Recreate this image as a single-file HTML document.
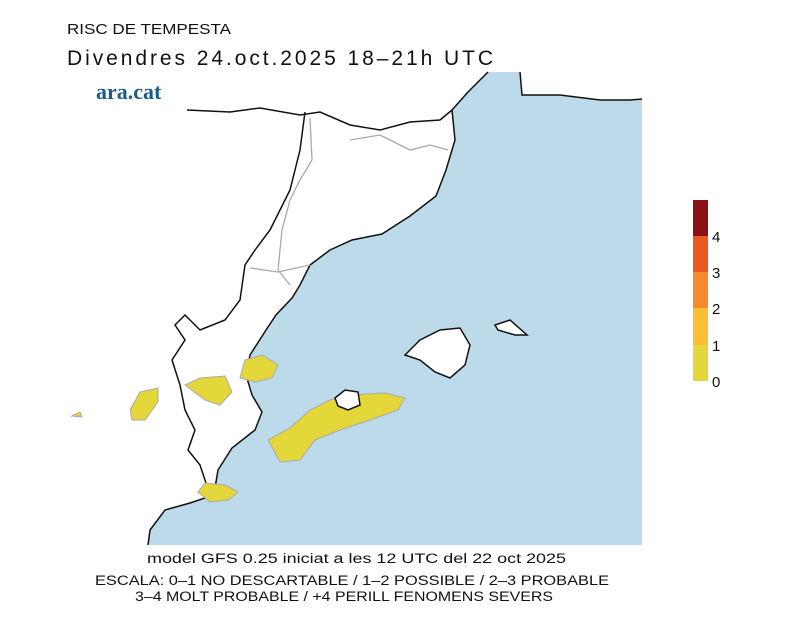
<!DOCTYPE html>
<html><head><meta charset="utf-8"><style>
body{margin:0;background:#fff;width:800px;height:617px;overflow:hidden;font-family:"Liberation Sans",sans-serif}
</style></head><body>
<svg width="800" height="617" xmlns="http://www.w3.org/2000/svg">
<rect width="800" height="617" fill="#fff"/>
<text x="67" y="34" font-size="15" fill="#111" textLength="164" lengthAdjust="spacingAndGlyphs">RISC DE TEMPESTA</text>
<text x="67" y="65" font-size="21" fill="#111" textLength="426" lengthAdjust="spacing">Divendres  24.oct.2025 18–21h UTC</text>
<text x="96" y="99" font-size="22" font-weight="bold" font-family="Liberation Serif,serif" fill="#1a5c8a">ara.cat</text>
<!-- sea -->
<path d="M488,72 L642,72 L642,545 L148,545 L150,530 L165,510 L190,503 L205,498 L215,488 L218,470 L232,448 L255,430 L262,412 L252,395 L246,375 L250,355 L266,330 L276,315 L292,298 L300,285 L310,265 L330,250 L352,240 L382,234 L410,216 L436,196 L446,170 L455,140 L452,110 L468,92 Z" fill="#bddaea"/>
<path d="M148,545 L150,530 L165,510 L190,503 L205,498 L215,488 L218,470 L232,448 L255,430 L262,412 L252,395 L246,375 L250,355 L266,330 L276,315 L292,298 L300,285 L310,265 L330,250 L352,240 L382,234 L410,216 L436,196 L446,170 L455,140 L452,110 L468,92 L488,72" fill="none" stroke="#111" stroke-width="1.5"/>
<path d="M520,72 L522,95 L560,95 L600,100 L630,100 L642,99 L642,72 Z" fill="#fff"/>
<path d="M520,72 L522,95 L560,95 L600,100 L630,100 L642,99" fill="none" stroke="#111" stroke-width="1.5"/>
<!-- land boundaries -->
<path d="M187,110 L230,112 L260,108 L300,115 L320,112 L350,125 L380,130 L410,122 L440,120 L452,110" fill="none" stroke="#111" stroke-width="1.5"/>
<path d="M305,112 L300,150 L290,190 L280,210 L270,230 L255,250 L245,265 L240,300 L225,320 L200,330 L185,315 L175,325 L185,340 L172,360 L180,385 L185,410 L195,430 L188,450 L200,465 L205,480 L210,495" fill="none" stroke="#111" stroke-width="1.5"/>
<path d="M310,118 L312,160 L300,180 L290,200 L282,230 L278,270 L290,285 M250,268 L278,272 L310,265 M350,140 L380,135 L410,150 L430,145 L448,150" fill="none" stroke="#aaa" stroke-width="1.3"/>
<!-- islands -->
<path d="M405,355 L420,340 L440,330 L460,328 L470,345 L465,365 L450,378 L435,372 L420,360 Z" fill="#fff" stroke="#111" stroke-width="1.5"/>
<path d="M495,325 L510,320 L527,335 L515,335 L498,330 Z" fill="#fff" stroke="#111" stroke-width="1.5"/>
<!-- yellow blobs -->
<g fill="#e3d73a" stroke="#aaa" stroke-width="1">
<path d="M240,378 L245,360 L262,355 L278,365 L272,378 L255,382 Z"/>
<path d="M185,385 L200,378 L225,376 L232,392 L220,405 L205,400 Z"/>
<path d="M130,410 L140,392 L158,388 L158,402 L145,420 L132,420 Z"/>
<path d="M72,416 L80,412 L82,417 Z"/>
<path d="M268,440 L290,428 L310,410 L330,400 L350,395 L385,393 L405,398 L398,410 L370,420 L340,430 L315,440 L300,460 L280,462 Z"/>
<path d="M198,492 L205,483 L225,485 L238,492 L228,500 L210,502 Z"/>
</g>
<path d="M335,398 L345,390 L358,392 L360,405 L348,410 L338,406 Z" fill="#fff" stroke="#111" stroke-width="1.5"/>
<!-- colorbar -->
<rect x="693" y="200" width="15" height="36" fill="#8b0f14"/>
<rect x="693" y="236" width="15" height="36" fill="#e85a20"/>
<rect x="693" y="272" width="15" height="36" fill="#f7882b"/>
<rect x="693" y="308" width="15" height="37" fill="#fbbf35"/>
<rect x="693" y="345" width="15" height="36" fill="#e3d73a"/>
<g font-size="15" fill="#111">
<text x="712" y="242">4</text><text x="712" y="278">3</text><text x="712" y="314">2</text><text x="712" y="351">1</text><text x="712" y="387">0</text>
</g>
<g font-size="13.5" fill="#111">
<text x="147" y="563" textLength="419" lengthAdjust="spacingAndGlyphs">model GFS 0.25 iniciat a les 12 UTC del 22 oct 2025</text>
<text x="95" y="585" textLength="514" lengthAdjust="spacingAndGlyphs">ESCALA: 0–1 NO DESCARTABLE / 1–2 POSSIBLE / 2–3 PROBABLE</text>
<text x="135" y="601" textLength="418" lengthAdjust="spacingAndGlyphs">3–4 MOLT PROBABLE / +4 PERILL FENOMENS SEVERS</text>
</g>
</svg>
</body></html>
